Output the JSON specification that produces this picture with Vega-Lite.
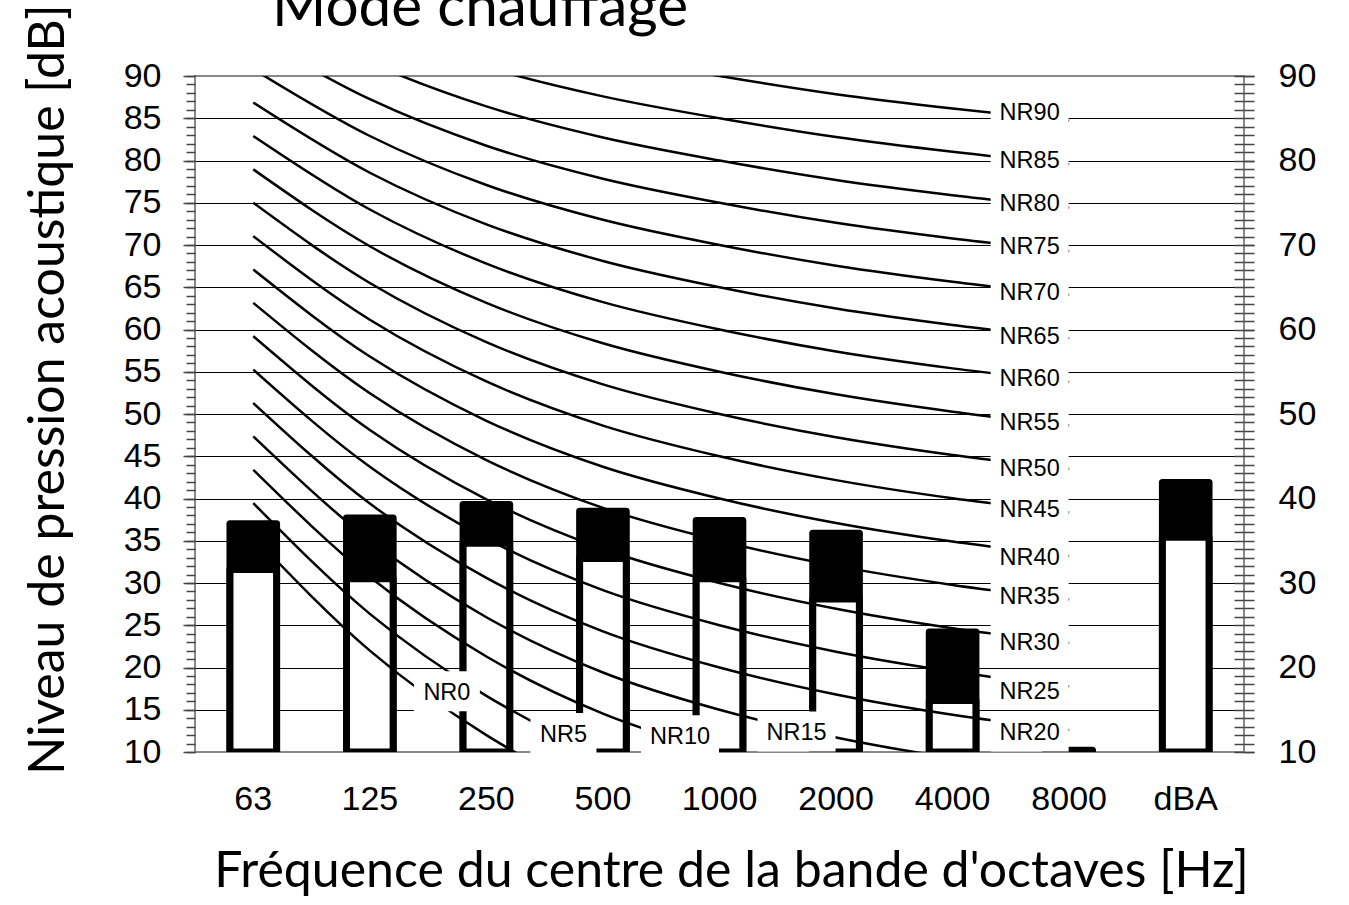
{
  "$schema": "https://vega.github.io/schema/vega-lite/v6.json",
  "width": 1049,
  "height": 676,
  "autosize": {"type": "none"},
  "padding": {"left": 195, "top": 76, "right": 105, "bottom": 153},
  "background": "white",
  "config": {"view": {"stroke": "#888", "strokeWidth": 2}, "font": "Liberation Sans"},
  "title": {"text": "Mode chauffage", "font": "Lato", "fontSize": 58.5, "fontWeight": "normal", "color": "#000", "anchor": "start", "frame": "group", "dx": 77, "offset": -81, "baseline": "alphabetic"},
  "datasets": {
    "bars": [
      {"band": "63", "total": 37.0, "lower": 31.6},
      {"band": "125", "total": 37.7, "lower": 30.5},
      {"band": "250", "total": 39.3, "lower": 34.7},
      {"band": "500", "total": 38.5, "lower": 32.9},
      {"band": "1000", "total": 37.4, "lower": 30.5},
      {"band": "2000", "total": 35.9, "lower": 28.1},
      {"band": "4000", "total": 24.2, "lower": 16.1},
      {"band": "8000", "total": 10.2, "lower": 10.0},
      {"band": "dBA", "total": 41.9, "lower": 35.4}
    ],
    "nr": [
      {"nr": "NR0", "band": "63", "db": 35.5}, {"nr": "NR0", "band": "125", "db": 22}, {"nr": "NR0", "band": "250", "db": 12}, {"nr": "NR0", "band": "500", "db": 4.8}, {"nr": "NR0", "band": "1000", "db": 0}, {"nr": "NR0", "band": "2000", "db": -3.5}, {"nr": "NR0", "band": "4000", "db": -6.1}, {"nr": "NR0", "band": "8000", "db": -8},
      {"nr": "NR5", "band": "63", "db": 39.45}, {"nr": "NR5", "band": "125", "db": 26.35}, {"nr": "NR5", "band": "250", "db": 16.65}, {"nr": "NR5", "band": "500", "db": 9.67}, {"nr": "NR5", "band": "1000", "db": 5}, {"nr": "NR5", "band": "2000", "db": 1.575}, {"nr": "NR5", "band": "4000", "db": -0.975}, {"nr": "NR5", "band": "8000", "db": -2.85},
      {"nr": "NR10", "band": "63", "db": 43.4}, {"nr": "NR10", "band": "125", "db": 30.7}, {"nr": "NR10", "band": "250", "db": 21.3}, {"nr": "NR10", "band": "500", "db": 14.54}, {"nr": "NR10", "band": "1000", "db": 10}, {"nr": "NR10", "band": "2000", "db": 6.65}, {"nr": "NR10", "band": "4000", "db": 4.15}, {"nr": "NR10", "band": "8000", "db": 2.3},
      {"nr": "NR15", "band": "63", "db": 47.35}, {"nr": "NR15", "band": "125", "db": 35.05}, {"nr": "NR15", "band": "250", "db": 25.95}, {"nr": "NR15", "band": "500", "db": 19.41}, {"nr": "NR15", "band": "1000", "db": 15}, {"nr": "NR15", "band": "2000", "db": 11.725}, {"nr": "NR15", "band": "4000", "db": 9.275}, {"nr": "NR15", "band": "8000", "db": 7.45},
      {"nr": "NR20", "band": "63", "db": 51.3}, {"nr": "NR20", "band": "125", "db": 39.4}, {"nr": "NR20", "band": "250", "db": 30.6}, {"nr": "NR20", "band": "500", "db": 24.28}, {"nr": "NR20", "band": "1000", "db": 20}, {"nr": "NR20", "band": "2000", "db": 16.8}, {"nr": "NR20", "band": "4000", "db": 14.4}, {"nr": "NR20", "band": "8000", "db": 12.6},
      {"nr": "NR25", "band": "63", "db": 55.25}, {"nr": "NR25", "band": "125", "db": 43.75}, {"nr": "NR25", "band": "250", "db": 35.25}, {"nr": "NR25", "band": "500", "db": 29.15}, {"nr": "NR25", "band": "1000", "db": 25}, {"nr": "NR25", "band": "2000", "db": 21.875}, {"nr": "NR25", "band": "4000", "db": 19.525}, {"nr": "NR25", "band": "8000", "db": 17.75},
      {"nr": "NR30", "band": "63", "db": 59.2}, {"nr": "NR30", "band": "125", "db": 48.1}, {"nr": "NR30", "band": "250", "db": 39.9}, {"nr": "NR30", "band": "500", "db": 34.02}, {"nr": "NR30", "band": "1000", "db": 30}, {"nr": "NR30", "band": "2000", "db": 26.95}, {"nr": "NR30", "band": "4000", "db": 24.65}, {"nr": "NR30", "band": "8000", "db": 22.9},
      {"nr": "NR35", "band": "63", "db": 63.15}, {"nr": "NR35", "band": "125", "db": 52.45}, {"nr": "NR35", "band": "250", "db": 44.55}, {"nr": "NR35", "band": "500", "db": 38.89}, {"nr": "NR35", "band": "1000", "db": 35}, {"nr": "NR35", "band": "2000", "db": 32.025}, {"nr": "NR35", "band": "4000", "db": 29.775}, {"nr": "NR35", "band": "8000", "db": 28.05},
      {"nr": "NR40", "band": "63", "db": 67.1}, {"nr": "NR40", "band": "125", "db": 56.8}, {"nr": "NR40", "band": "250", "db": 49.2}, {"nr": "NR40", "band": "500", "db": 43.76}, {"nr": "NR40", "band": "1000", "db": 40}, {"nr": "NR40", "band": "2000", "db": 37.1}, {"nr": "NR40", "band": "4000", "db": 34.9}, {"nr": "NR40", "band": "8000", "db": 33.2},
      {"nr": "NR45", "band": "63", "db": 71.05}, {"nr": "NR45", "band": "125", "db": 61.15}, {"nr": "NR45", "band": "250", "db": 53.85}, {"nr": "NR45", "band": "500", "db": 48.63}, {"nr": "NR45", "band": "1000", "db": 45}, {"nr": "NR45", "band": "2000", "db": 42.175}, {"nr": "NR45", "band": "4000", "db": 40.025}, {"nr": "NR45", "band": "8000", "db": 38.35},
      {"nr": "NR50", "band": "63", "db": 75}, {"nr": "NR50", "band": "125", "db": 65.5}, {"nr": "NR50", "band": "250", "db": 58.5}, {"nr": "NR50", "band": "500", "db": 53.5}, {"nr": "NR50", "band": "1000", "db": 50}, {"nr": "NR50", "band": "2000", "db": 47.25}, {"nr": "NR50", "band": "4000", "db": 45.15}, {"nr": "NR50", "band": "8000", "db": 43.5},
      {"nr": "NR55", "band": "63", "db": 78.95}, {"nr": "NR55", "band": "125", "db": 69.85}, {"nr": "NR55", "band": "250", "db": 63.15}, {"nr": "NR55", "band": "500", "db": 58.37}, {"nr": "NR55", "band": "1000", "db": 55}, {"nr": "NR55", "band": "2000", "db": 52.325}, {"nr": "NR55", "band": "4000", "db": 50.275}, {"nr": "NR55", "band": "8000", "db": 48.65},
      {"nr": "NR60", "band": "63", "db": 82.9}, {"nr": "NR60", "band": "125", "db": 74.2}, {"nr": "NR60", "band": "250", "db": 67.8}, {"nr": "NR60", "band": "500", "db": 63.24}, {"nr": "NR60", "band": "1000", "db": 60}, {"nr": "NR60", "band": "2000", "db": 57.4}, {"nr": "NR60", "band": "4000", "db": 55.4}, {"nr": "NR60", "band": "8000", "db": 53.8},
      {"nr": "NR65", "band": "63", "db": 86.85}, {"nr": "NR65", "band": "125", "db": 78.55}, {"nr": "NR65", "band": "250", "db": 72.45}, {"nr": "NR65", "band": "500", "db": 68.11}, {"nr": "NR65", "band": "1000", "db": 65}, {"nr": "NR65", "band": "2000", "db": 62.475}, {"nr": "NR65", "band": "4000", "db": 60.525}, {"nr": "NR65", "band": "8000", "db": 58.95},
      {"nr": "NR70", "band": "63", "db": 90.8}, {"nr": "NR70", "band": "125", "db": 82.9}, {"nr": "NR70", "band": "250", "db": 77.1}, {"nr": "NR70", "band": "500", "db": 72.98}, {"nr": "NR70", "band": "1000", "db": 70}, {"nr": "NR70", "band": "2000", "db": 67.55}, {"nr": "NR70", "band": "4000", "db": 65.65}, {"nr": "NR70", "band": "8000", "db": 64.1},
      {"nr": "NR75", "band": "63", "db": 94.75}, {"nr": "NR75", "band": "125", "db": 87.25}, {"nr": "NR75", "band": "250", "db": 81.75}, {"nr": "NR75", "band": "500", "db": 77.85}, {"nr": "NR75", "band": "1000", "db": 75}, {"nr": "NR75", "band": "2000", "db": 72.625}, {"nr": "NR75", "band": "4000", "db": 70.775}, {"nr": "NR75", "band": "8000", "db": 69.25},
      {"nr": "NR80", "band": "63", "db": 98.7}, {"nr": "NR80", "band": "125", "db": 91.6}, {"nr": "NR80", "band": "250", "db": 86.4}, {"nr": "NR80", "band": "500", "db": 82.72}, {"nr": "NR80", "band": "1000", "db": 80}, {"nr": "NR80", "band": "2000", "db": 77.7}, {"nr": "NR80", "band": "4000", "db": 75.9}, {"nr": "NR80", "band": "8000", "db": 74.4},
      {"nr": "NR85", "band": "63", "db": 102.65}, {"nr": "NR85", "band": "125", "db": 95.95}, {"nr": "NR85", "band": "250", "db": 91.05}, {"nr": "NR85", "band": "500", "db": 87.59}, {"nr": "NR85", "band": "1000", "db": 85}, {"nr": "NR85", "band": "2000", "db": 82.775}, {"nr": "NR85", "band": "4000", "db": 81.025}, {"nr": "NR85", "band": "8000", "db": 79.55},
      {"nr": "NR90", "band": "63", "db": 106.6}, {"nr": "NR90", "band": "125", "db": 100.3}, {"nr": "NR90", "band": "250", "db": 95.7}, {"nr": "NR90", "band": "500", "db": 92.46}, {"nr": "NR90", "band": "1000", "db": 90}, {"nr": "NR90", "band": "2000", "db": 87.85}, {"nr": "NR90", "band": "4000", "db": 86.15}, {"nr": "NR90", "band": "8000", "db": 84.7}
    ],
    "labels": [
      {"label": "NR0", "band": "250", "y": 16.95},
      {"label": "NR5", "band": "500", "y": 12.0},
      {"label": "NR10", "band": "1000", "y": 11.75},
      {"label": "NR15", "band": "2000", "y": 12.2},
      {"label": "NR20", "band": "8000", "y": 12.2},
      {"label": "NR25", "band": "8000", "y": 17.15},
      {"label": "NR30", "band": "8000", "y": 22.85},
      {"label": "NR35", "band": "8000", "y": 28.3},
      {"label": "NR40", "band": "8000", "y": 32.9},
      {"label": "NR45", "band": "8000", "y": 38.65},
      {"label": "NR50", "band": "8000", "y": 43.55},
      {"label": "NR55", "band": "8000", "y": 48.9},
      {"label": "NR60", "band": "8000", "y": 54.1},
      {"label": "NR65", "band": "8000", "y": 59.1},
      {"label": "NR70", "band": "8000", "y": 64.3},
      {"label": "NR75", "band": "8000", "y": 69.75},
      {"label": "NR80", "band": "8000", "y": 74.85},
      {"label": "NR85", "band": "8000", "y": 80.0},
      {"label": "NR90", "band": "8000", "y": 85.6}
    ]
  },
  "encoding": {
    "x": {
      "field": "band", "type": "nominal", "sort": null,
      "scale": {"domain": ["63", "125", "250", "500", "1000", "2000", "4000", "8000", "dBA"], "paddingInner": 0, "paddingOuter": 0},
      "axis": {"orient": "bottom", "domain": false, "ticks": false, "tickSize": 0, "labelAngle": 0, "labelFont": "Liberation Sans", "labelFontSize": 34, "labelColor": "#000", "labelPadding": 30, "title": "Fréquence du centre de la bande d'octaves [Hz]", "titleFont": "Lato", "titleFontSize": 50, "titleFontWeight": "normal", "titleColor": "#000", "titlePadding": 30, "titleX": 536}
    }
  },
  "layer": [
    {
      "data": {"name": "bars"},
      "mark": {"type": "bar", "width": {"band": 0.4}, "fill": "#000", "stroke": "#000", "strokeWidth": 7, "strokeJoin": "round", "clip": true},
      "encoding": {
        "y": {"field": "total", "type": "quantitative", "scale": {"domain": [10, 90], "nice": false, "zero": false},
          "axis": {"orient": "left", "values": [10, 15, 20, 25, 30, 35, 40, 45, 50, 55, 60, 65, 70, 75, 80, 85, 90], "grid": false, "domain": false, "ticks": true, "tickSize": 12, "tickColor": "#444", "tickWidth": 1.5, "labelFont": "Liberation Sans", "labelFontSize": 34, "labelColor": "#000", "labelPadding": 22, "title": "Niveau de pression acoustique [dB]", "titleFont": "Lato", "titleFontSize": 50, "titleFontWeight": "normal", "titleColor": "#000", "titlePadding": 50, "titleY": 313}},
        "y2": {"datum": 10}
      }
    },
    {
      "data": {"name": "bars"},
      "mark": {"type": "bar", "width": {"band": 0.4}, "fill": "#fff", "stroke": "#000", "strokeWidth": 7, "strokeJoin": "round", "clip": true},
      "encoding": {
        "y": {"field": "lower", "type": "quantitative", "scale": {"domain": [10, 90], "nice": false, "zero": false},
          "axis": {"orient": "left", "values": [10,11,12,13,14,15,16,17,18,19,20,21,22,23,24,25,26,27,28,29,30,31,32,33,34,35,36,37,38,39,40,41,42,43,44,45,46,47,48,49,50,51,52,53,54,55,56,57,58,59,60,61,62,63,64,65,66,67,68,69,70,71,72,73,74,75,76,77,78,79,80,81,82,83,84,85,86,87,88,89,90], "grid": false, "domain": false, "labels": false, "ticks": true, "tickSize": 9, "tickColor": "#444", "tickWidth": 1.5, "title": null}},
        "y2": {"datum": 10}
      }
    },
    {
      "data": {"name": "nr"},
      "mark": {"type": "line", "color": "#000", "strokeWidth": 2.5, "interpolate": "monotone", "clip": true},
      "encoding": {
        "y": {"field": "db", "type": "quantitative", "scale": {"domain": [10, 90], "nice": false, "zero": false},
          "axis": {"orient": "left", "values": [15, 20, 25, 30, 35, 40, 45, 50, 55, 60, 65, 70, 75, 80, 85], "grid": true, "gridColor": "#000", "gridWidth": 1, "gridOpacity": 1, "domain": false, "labels": false, "ticks": false, "title": null}},
        "detail": {"field": "nr", "type": "nominal"},
        "order": {"value": null}
      }
    },
    {
      "data": {"name": "labels"},
      "transform": [{"filter": "datum.label != 'NR0' && datum.label != 'NR5'"}],
      "mark": {"type": "point", "shape": "M-1,-0.513H1V0.513H-1Z", "size": 6084, "filled": true, "color": "#fff", "opacity": 1, "strokeWidth": 0, "xOffset": -39.5, "yOffset": -2},
      "encoding": {
        "y": {"field": "y", "type": "quantitative", "scale": {"domain": [10, 90], "nice": false, "zero": false},
          "axis": {"orient": "right", "values": [10, 20, 30, 40, 50, 60, 70, 80, 90], "grid": false, "domain": false, "ticks": true, "tickSize": 10, "tickColor": "#444", "tickWidth": 1.5, "labelFont": "Liberation Sans", "labelFontSize": 34, "labelColor": "#000", "labelPadding": 24, "title": null}}
      }
    },
    {
      "data": {"name": "labels"},
      "transform": [{"filter": "datum.label == 'NR0' || datum.label == 'NR5'"}],
      "mark": {"type": "point", "shape": "M-1,-0.606H1V0.606H-1Z", "size": 4356, "filled": true, "color": "#fff", "opacity": 1, "strokeWidth": 0, "xOffset": -39.5, "yOffset": -2},
      "encoding": {
        "y": {"field": "y", "type": "quantitative", "scale": {"domain": [10, 90], "nice": false, "zero": false},
          "axis": {"orient": "right", "values": [10,11,12,13,14,15,16,17,18,19,20,21,22,23,24,25,26,27,28,29,30,31,32,33,34,35,36,37,38,39,40,41,42,43,44,45,46,47,48,49,50,51,52,53,54,55,56,57,58,59,60,61,62,63,64,65,66,67,68,69,70,71,72,73,74,75,76,77,78,79,80,81,82,83,84,85,86,87,88,89,90], "grid": false, "domain": false, "labels": false, "ticks": true, "tickSize": 10, "tickColor": "#444", "tickWidth": 1.5, "title": null}}
      }
    },
    {
      "data": {"name": "labels"},
      "mark": {"type": "text", "font": "Liberation Sans", "fontSize": 23.5, "color": "#000", "align": "center", "baseline": "middle", "xOffset": -39.5},
      "encoding": {
        "y": {"field": "y", "type": "quantitative", "scale": {"domain": [10, 90], "nice": false, "zero": false},
          "axis": {"orient": "right", "values": [10,11,12,13,14,15,16,17,18,19,20,21,22,23,24,25,26,27,28,29,30,31,32,33,34,35,36,37,38,39,40,41,42,43,44,45,46,47,48,49,50,51,52,53,54,55,56,57,58,59,60,61,62,63,64,65,66,67,68,69,70,71,72,73,74,75,76,77,78,79,80,81,82,83,84,85,86,87,88,89,90], "grid": false, "domain": false, "labels": false, "ticks": true, "tickSize": -10, "tickColor": "#444", "tickWidth": 1.5, "title": null}},
        "text": {"field": "label", "type": "nominal"}
      }
    }
  ],
  "resolve": {"axis": {"y": "independent"}}
}
